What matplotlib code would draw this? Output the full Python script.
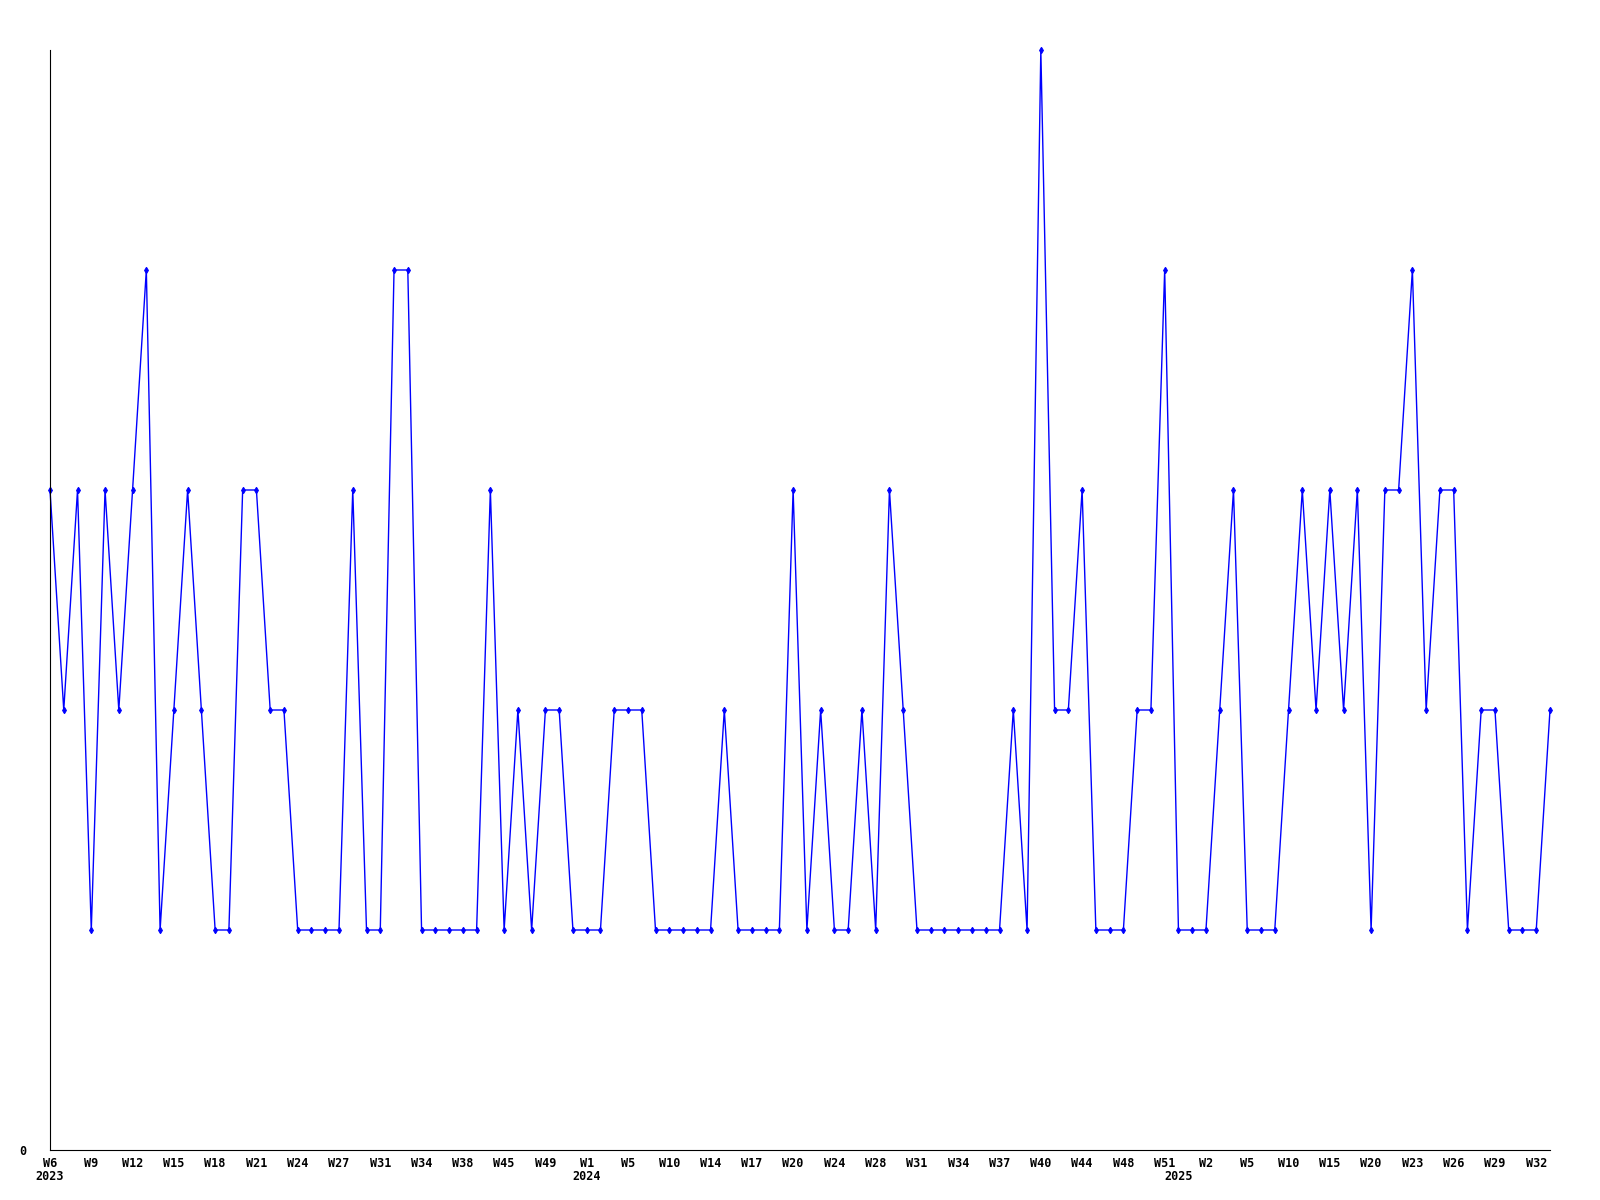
import matplotlib
matplotlib.use('Agg')
import matplotlib.pyplot as plt
import matplotlib.transforms as mtransforms

# weekly counts, one per point
values = [3, 2, 3, 1, 3, 2, 3, 4, 1, 2,
          3, 2, 1, 1, 3, 3, 2, 2, 1, 1,
          1, 1, 3, 1, 1, 4, 4, 1, 1, 1,
          1, 1, 3, 1, 2, 1, 2, 2, 1, 1,
          1, 2, 2, 2, 1, 1, 1, 1, 1, 2,
          1, 1, 1, 1, 3, 1, 2, 1, 1, 2,
          1, 3, 2, 1, 1, 1, 1, 1, 1, 1,
          2, 1, 5, 2, 2, 3, 1, 1, 1, 2,
          2, 4, 1, 1, 1, 2, 3, 1, 1, 1,
          2, 3, 2, 3, 2, 3, 1, 3, 3, 4,
          2, 3, 3, 1, 2, 2, 1, 1, 1, 2]

week_labels = ['W6', 'W9', 'W12', 'W15', 'W18', 'W21', 'W24', 'W27', 'W31', 'W34',
               'W38', 'W45', 'W49', 'W1', 'W5', 'W10', 'W14', 'W17', 'W20', 'W24',
               'W28', 'W31', 'W34', 'W37', 'W40', 'W44', 'W48', 'W51', 'W2', 'W5',
               'W10', 'W15', 'W20', 'W23', 'W26', 'W29', 'W32']
years = ['2023', '2024', '2025']
year_pos = [0, 39, 82]

font = dict(family='DejaVu Sans Mono', fontweight='bold', fontsize=8.5)

fig = plt.figure(figsize=(16, 12), dpi=100)
ax = fig.add_axes([50 / 1600, 50 / 1200, 1500 / 1600, 1100 / 1200])

x = list(range(len(values)))
ax.plot(x, values, color='#0000ff', linewidth=1, marker='d', markersize=3.2,
        markeredgewidth=0.8, clip_on=False)

ax.set_xlim(0, len(values) - 1)
ax.set_ylim(0, 5)

ax.spines['top'].set_visible(False)
ax.spines['right'].set_visible(False)

ax.set_xticks(range(0, len(values), 3))
ax.set_xticklabels(week_labels, **font)
ax.set_yticks([0])
ax.set_yticklabels(['0'], **font)
ax.tick_params(axis='both', length=0)
ax.tick_params(axis='x', pad=5)
ax.tick_params(axis='y', pad=17)

trans = mtransforms.blended_transform_factory(ax.transData, ax.transAxes)
for yr, p in zip(years, year_pos):
    ax.text(p, -0.024, yr, transform=trans, ha='center', va='center', **font)

fig.savefig('out.png', dpi=100)
